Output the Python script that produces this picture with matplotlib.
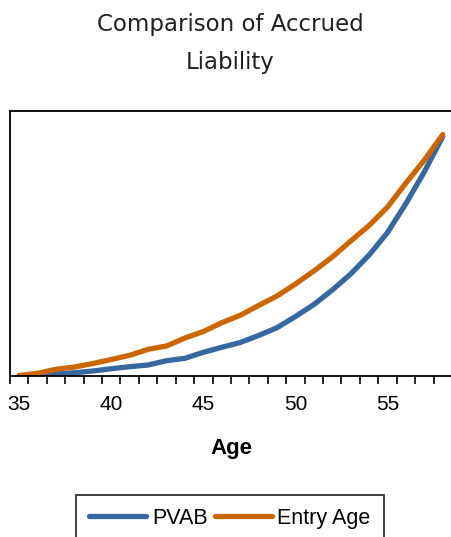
import matplotlib

matplotlib.use("Agg")
import matplotlib.pyplot as plt
import numpy as np

# Data (arbitrary liability units)
ages = list(range(35, 59))
pvab = [0.0, 0.3, 2.0, 3.3, 5.0, 7.3, 9.3, 11.0, 15.3, 17.7, 23.7, 28.7,
        33.5, 40.5, 48.3, 59.5, 71.5, 86.0, 102.0, 121.0, 143.5, 172.5, 204.3, 239.5]
entry_age = [0.5, 2.7, 6.7, 9.0, 12.5, 16.5, 20.7, 26.7, 30.0, 38.0, 44.5, 53.3,
             60.7, 70.5, 80.0, 92.0, 105.0, 119.0, 135.0, 150.5, 169.0, 193.0, 216.0, 241.5]
tick_ages = [35, 40, 45, 50, 55]

blue = "#36679E"
orange = "#CC6600"

fig = plt.figure(figsize=(4.51, 5.37), dpi=100)
ax = fig.add_axes([10 / 451, 1 - 376 / 537, 442 / 451, (376 - 111) / 537])

x = np.arange(len(ages))
ax.plot(x, pvab, color=blue, lw=3.8, label="PVAB", solid_capstyle="round")
ax.plot(x, entry_age, color=orange, lw=3.8, label="Entry Age", solid_capstyle="round")

ax.set_xlim(-0.5, len(ages) - 0.5)
ax.set_ylim(0, 265)

# category axis: tick marks between categories, labels on every 5th age
ax.set_xticks(np.arange(-0.5, len(ages)), minor=True)
ax.set_xticks([ages.index(a) for a in tick_ages])
ax.set_xticklabels([str(a) for a in tick_ages], family="Liberation Sans", fontsize=15)
ax.tick_params(axis="x", which="major", length=0, pad=14)
ax.tick_params(axis="x", which="minor", length=6, width=1.2, direction="out")
ax.set_yticks([])

for s in ["left", "top", "bottom"]:
    ax.spines[s].set_linewidth(1.3)
    ax.spines[s].set_color("black")
ax.spines["right"].set_visible(False)

ax.set_xlabel("Age", family="Liberation Sans", fontsize=16, fontweight="bold", labelpad=17)

fig.text(0.51, 1 - 13 / 537, "Comparison of Accrued\nLiability", ha="center", va="top",
         family="DejaVu Sans", fontsize=16.5, linespacing=1.85, color="#222222")

leg = fig.legend(loc="upper center", bbox_to_anchor=(0.51, 1 - 495 / 537), ncol=2,
                 prop={"family": "Liberation Sans", "size": 15.5}, frameon=True,
                 fancybox=False, edgecolor="black", handlelength=2.65, handletextpad=0.25,
                 columnspacing=0.35, borderpad=0.6, borderaxespad=0)
leg.get_frame().set_linewidth(1.3)
for line in leg.get_lines():
    line.set_linewidth(3.8)

fig.savefig("out.png", dpi=100)
